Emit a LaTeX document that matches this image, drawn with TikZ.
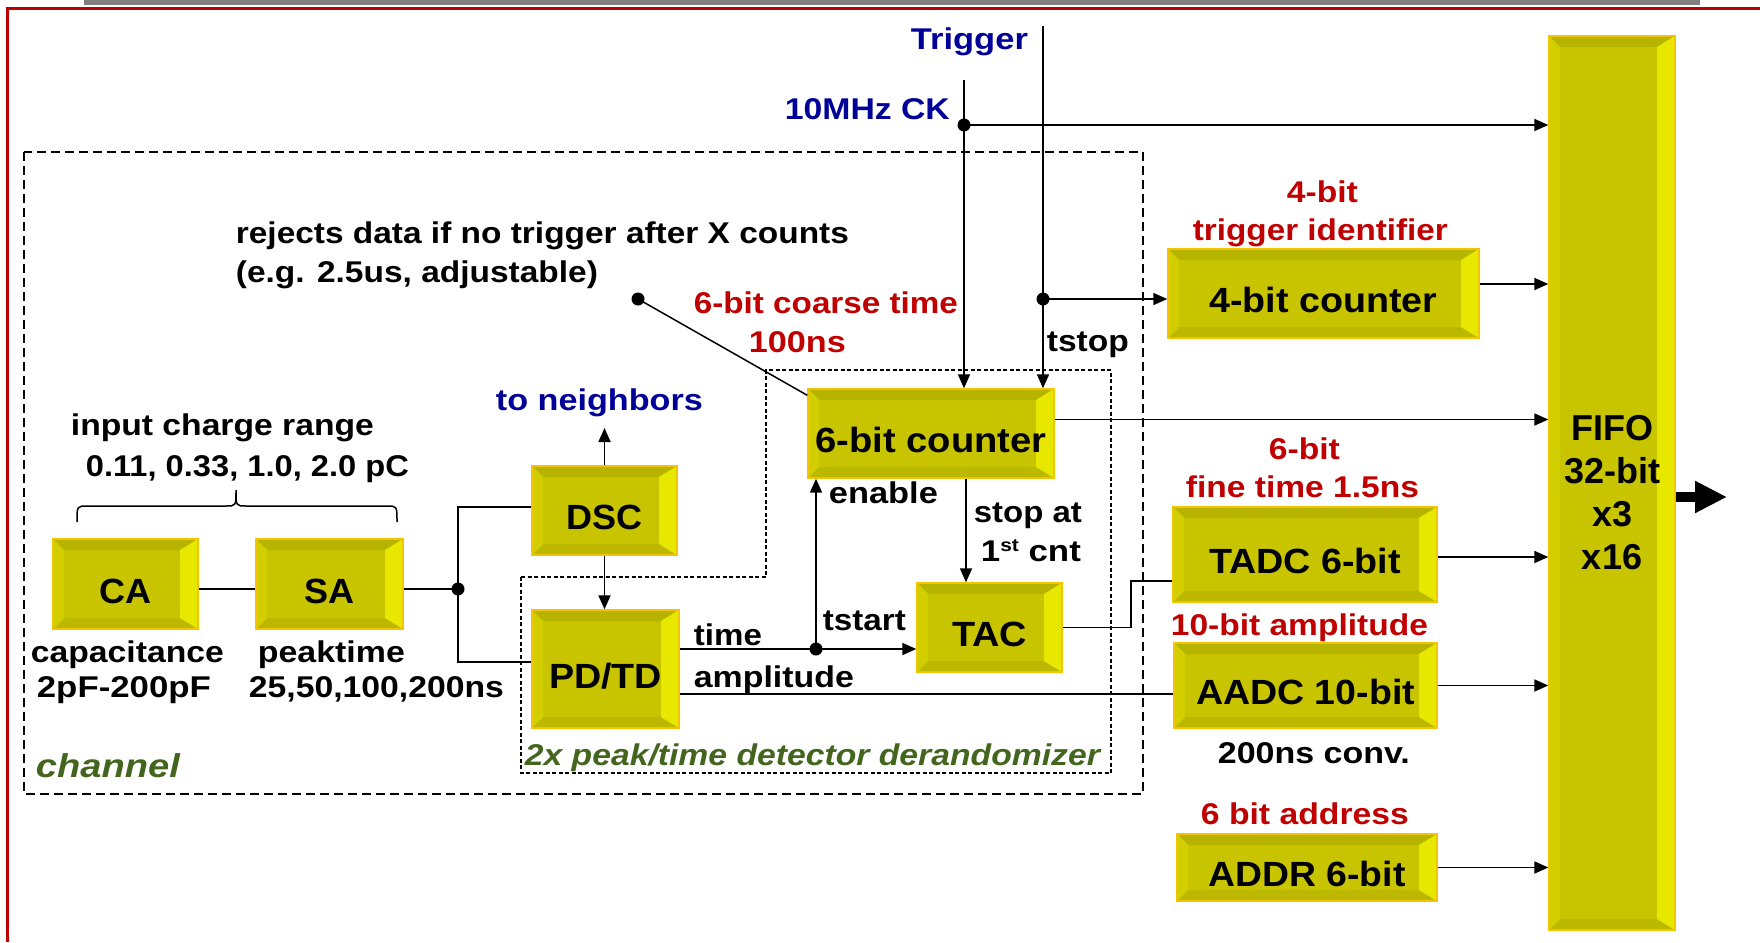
\documentclass[tikz,border=0pt]{standalone}
\usepackage{fontspec}
\setmainfont{Liberation Sans}
\usepackage{graphicx}
\usetikzlibrary{arrows.meta,calc}
\definecolor{bvface}{HTML}{C8C400}
\definecolor{bvtop}{HTML}{B7B400}
\definecolor{bvbot}{HTML}{BCB800}
\definecolor{bvleft}{HTML}{D2CE00}
\definecolor{bvright}{HTML}{E8E700}
\definecolor{bvedge}{HTML}{F5C400}
\definecolor{lblred}{HTML}{C00000}
\definecolor{lblblue}{HTML}{000099}
\definecolor{lblgreen}{HTML}{43651E}
\definecolor{framered}{HTML}{C00000}
\definecolor{bargray}{HTML}{808080}
\newcommand\fw[2]{\resizebox{#1pt}{\height}{#2}}
\tikzset{
 bev/.style={draw=bvedge, line width=1.4pt, fill=bvface, inner sep=0pt,
   text height=38pt, text depth=0pt,
   font=\fontsize{35}{40}\selectfont\bfseries,
   path picture={
     \fill[bvtop] (path picture bounding box.north west) -- (path picture bounding box.north east)
        -- ([xshift=-18pt,yshift=-11pt]path picture bounding box.north east)
        -- ([xshift=11pt,yshift=-11pt]path picture bounding box.north west) -- cycle;
     \fill[bvbot] (path picture bounding box.south west) -- (path picture bounding box.south east)
        -- ([xshift=-18pt,yshift=11pt]path picture bounding box.south east)
        -- ([xshift=11pt,yshift=11pt]path picture bounding box.south west) -- cycle;
     \fill[bvleft] (path picture bounding box.north west)
        -- ([xshift=11pt,yshift=-11pt]path picture bounding box.north west)
        -- ([xshift=11pt,yshift=11pt]path picture bounding box.south west)
        -- (path picture bounding box.south west) -- cycle;
     \fill[bvright] (path picture bounding box.north east)
        -- ([xshift=-18pt,yshift=-11pt]path picture bounding box.north east)
        -- ([xshift=-18pt,yshift=11pt]path picture bounding box.south east)
        -- (path picture bounding box.south east) -- cycle;
   }},
 fifotxt/.style={inner sep=0pt, align=center, font=\fontsize{36}{43}\selectfont\bfseries},
 lbl/.style={inner sep=0pt, anchor=base west, font=\fontsize{30}{36}\selectfont\bfseries},
 red lbl/.style={lbl, text=lblred},
 blue lbl/.style={lbl, text=lblblue},
 green lbl/.style={lbl, text=lblgreen, font=\fontsize{30}{36}\selectfont\bfseries\itshape},
 arr/.style={-{Triangle[length=14pt,width=12pt]}},
 bigarr/.style={-{Triangle[length=32pt,width=30pt]}, line width=10pt},
 chanbox/.style={line width=1.6pt, dash pattern=on 9pt off 5pt},
 derbox/.style={line width=1.3pt, dash pattern=on 4pt off 2.5pt},
}
\begin{document}
\begin{tikzpicture}[x=1pt,y=-1pt,line width=1.8pt]
\useasboundingbox (0,0) rectangle (1760,942);
% frame
\fill[bargray] (84,0) rectangle (1700,5);
\draw[framered, line width=3pt] (7,942) -- (7,9) -- (1760,9);
% dashed groups
\draw[chanbox] (24,152) rectangle (1143,794);
\draw[derbox] (521,577) -- (766,577) -- (766,370) -- (1111,370) -- (1111,773) -- (521,773) -- cycle;

% blocks
\node[bev, minimum width=145pt, minimum height=90pt] (ca) at (125.5,584) {\fw{52}{CA}};
\node[bev, minimum width=147pt, minimum height=90pt] (sa) at (329.5,584) {\fw{50}{SA}};
\node[bev, minimum width=145pt, minimum height=89pt] (dsc) at (604.5,510.5) {\fw{76}{DSC}};
\node[bev, minimum width=147pt, minimum height=118pt] (pdtd) at (605.5,669) {\fw{113}{PD/TD}};
\node[bev, minimum width=246pt, minimum height=89pt] (cnt6) at (931,433.5) {\fw{231}{6-bit counter}};
\node[bev, minimum width=145pt, minimum height=89pt] (tac) at (989.5,627.5) {\fw{75}{TAC}};
\node[bev, minimum width=311pt, minimum height=89pt] (cnt4) at (1323.5,293.5) {\fw{228}{4-bit counter}};
\node[bev, minimum width=264pt, minimum height=95pt] (tadc) at (1305,554.5) {\fw{192}{TADC 6-bit}};
\node[bev, minimum width=263pt, minimum height=85pt] (aadc) at (1305.5,685.5) {\fw{219}{AADC 10-bit}};
\node[bev, minimum width=260pt, minimum height=67pt] (addr) at (1307,867.5) {\fw{197}{ADDR 6-bit}};
\node[bev, minimum width=126pt, minimum height=894pt] (fifo) at (1612,483) {};
\node[fifotxt] (fifolbl) at (1612,492.5) {FIFO\\32-bit\\x3\\x16};

% coordinates
\coordinate (j1) at (458,589);
\coordinate (jt) at (458,507);
\coordinate (jb) at (458,662);
\coordinate (j2) at (816,649);
\coordinate (nb) at (604.5,428);
\coordinate (sx) at (966,478);
\coordinate (amp) at (690,694);
\coordinate (tk) at (1131,581);
\coordinate (ckt) at (964,80);
\coordinate (ckd) at (964,125);
\coordinate (trt) at (1043,26);
\coordinate (trd) at (1043,299);
\coordinate (rj) at (638,299);
\coordinate (out) at (1727,497);

% connectors
\draw (ca.east |- j1) -- (sa.west |- j1);
\draw (sa.east |- j1) -- (j1);
\draw (dsc.west |- jt) -- (jt) -- (jb) -- (pdtd.west |- jb);
\draw[arr] (dsc.north) -- (nb);
\draw[arr] (dsc.south) -- (dsc.south |- pdtd.north);
\draw (pdtd.east |- j2) -- (j2);
\draw[arr] (j2) -- (tac.west |- j2);
\draw[arr] (j2) -- (j2 |- cnt6.south);
\draw[arr] (cnt6.south -| sx) -- (tac.north -| sx);
\draw (pdtd.east |- amp) -- (aadc.west |- amp);
\draw (tac.east) -| (tk) -- (tadc.west |- tk);
\draw (ckt) -- (ckd);
\draw[arr] (ckd) -- (ckd |- cnt6.north);
\draw[arr] (ckd) -- (ckd -| fifo.west);
\draw[arr] (trt) -- (trt |- cnt6.north);
\draw[arr] (trd) -- (trd -| cnt4.west);
\draw[line width=1.5pt] (rj) -- ([yshift=-7pt]cnt6.north west);
\draw[arr] ([yshift=9.5pt]cnt4.east) -- ([yshift=9.5pt]cnt4.east -| fifo.west);
\draw[arr] ([yshift=14pt]cnt6.east) -- ([yshift=14pt]cnt6.east -| fifo.west);
\draw[arr] ([yshift=-2.5pt]tadc.east) -- ([yshift=-2.5pt]tadc.east -| fifo.west);
\draw[arr] (aadc.east) -- (aadc.east -| fifo.west);
\draw[arr] (addr.east) -- (addr.east -| fifo.west);
\draw[bigarr] (fifo.east |- out) -- (out);
\foreach \p in {j1,j2,ckd,trd,rj} \fill (\p) circle (6.5pt);

% brace
\draw[line width=1.5pt] (77,522) .. controls (77,506) .. (87,506) -- (226,506)
   .. controls (236,506) .. (236,490) .. controls (236,506) .. (246,506)
   -- (387,506) .. controls (397,506) .. (397,522);

% labels
\node[blue lbl] (t1) at (910,50) {\fw{117}{Trigger}};
\node[blue lbl] (t2) at (784,119) {\fw{165}{10MHz CK}};
\node[lbl] (t3) at (235,243) {\fw{613}{rejects data if no trigger after X counts}};
\node[lbl] (t4) at (235,282) {\fw{362}{(e.g. 2.5us, adjustable)}};
\node[red lbl] (t5) at (693,313) {\fw{264}{6-bit coarse time}};
\node[red lbl] (t6) at (748,352) {\fw{97}{100ns}};
\node[lbl] (t7) at (1046,351) {\fw{82}{tstop}};
\node[red lbl] (t8) at (1286,202) {\fw{71}{4-bit}};
\node[red lbl] (t9) at (1192,240) {\fw{255}{trigger identifier}};
\node[blue lbl] (t10) at (495,410) {\fw{207}{to neighbors}};
\node[lbl] (t11) at (70,435) {\fw{303}{input charge range}};
\node[lbl] (t12) at (85,476) {\fw{323}{0.11, 0.33, 1.0, 2.0 pC}};
\node[lbl] (t13) at (828,503) {\fw{109}{enable}};
\node[lbl] (t14) at (973,522) {\fw{108}{stop at}};
\node[lbl] (t15) at (980,561) {\fw{100}{1\raisebox{10pt}{\fontsize{18}{18}\selectfont st} cnt}};
\node[red lbl] (t16) at (1268,459) {\fw{71}{6-bit}};
\node[red lbl] (t17) at (1185,497) {\fw{233}{fine time 1.5ns}};
\node[lbl] (t18) at (693,645) {\fw{68}{time}};
\node[lbl] (t19) at (822,630) {\fw{83}{tstart}};
\node[lbl] (t20) at (693,687) {\fw{160}{amplitude}};
\node[lbl] (t21) at (30,662) {\fw{193}{capacitance}};
\node[lbl] (t22) at (36,697) {\fw{174}{2pF-200pF}};
\node[lbl] (t23) at (257,662) {\fw{147}{peaktime}};
\node[lbl] (t24) at (248,697) {\fw{255}{25,50,100,200ns}};
\node[red lbl] (t25) at (1170,635) {\fw{257}{10-bit amplitude}};
\node[lbl] (t26) at (1217,763) {\fw{192}{200ns conv.}};
\node[red lbl] (t27) at (1200,824) {\fw{208}{6 bit address}};
\node[green lbl, font=\fontsize{33}{38}\selectfont\bfseries\itshape] (t28) at (35,777) {\fw{144}{channel}};
\node[green lbl] (t29) at (524,765) {\fw{575}{2x peak/time detector derandomizer}};
\end{tikzpicture}
\end{document}
